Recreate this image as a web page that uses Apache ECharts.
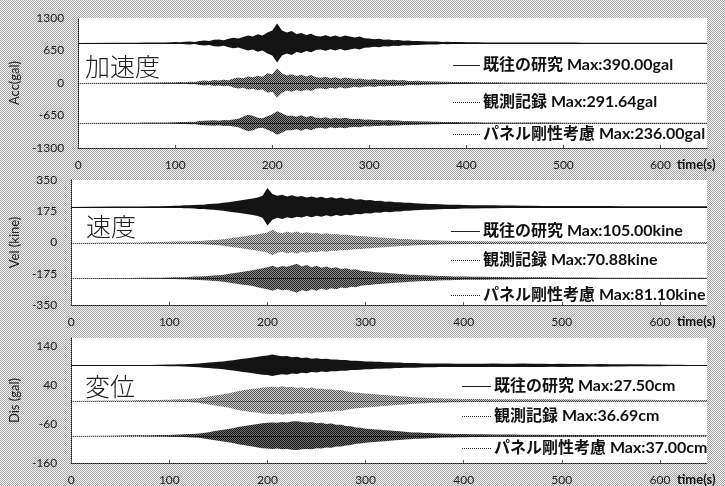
<!DOCTYPE html>
<html>
<head>
<meta charset="utf-8">
<script src="https://cdn.jsdelivr.net/npm/echarts@6/dist/echarts.min.js"></script>
<style>
  html, body { margin: 0; padding: 0; background: #fff; }
  #chart { width: 725px; height: 486px; }
</style>
</head>
<body>
<div id="chart"></div>
<script>
// Sample times (s) shared by every trace
const TIMES = [0, 40, 60, 70, 80, 90,
  100, 105, 110, 115, 120, 125, 130, 135, 140, 145, 150, 155, 160, 165, 170, 175, 180, 185, 190, 195,
  200, 205, 210, 215, 220, 225, 230, 235, 240, 245, 250, 255, 260, 265, 270, 275, 280, 285, 290, 295,
  300, 305, 310, 315, 320, 325, 330, 335, 340, 345, 350, 355, 360, 365, 370, 375, 380, 385, 390, 395, 400,
  410, 420, 430, 440, 450, 460, 470, 480, 490, 500, 510, 520, 530, 540, 550, 560, 570, 580, 590, 600, 610, 620, 630, 640,
  648];

const TRACE_NAMES = ['既往の研究', '観測記録', 'パネル剛性考慮'];
const PANEL_TITLES = ['加速度', '速度', '変位'];
const Y_NAMES = ['Acc(gal)', 'Vel (kine)', 'Dis (gal)'];
const UNITS = ['gal', 'kine', 'cm'];
const X_NAME = 'time(s)';

// Peak amplitudes of each trace
const ACC_MAX = [390.00, 291.64, 236.00];
const VEL_MAX = [105.00, 70.88, 81.10];
const DIS_MAX = [27.50, 36.69, 37.00];

// Vertical offsets used to stack the three traces in a panel
const ACC_OFFSETS = [800, 0, -800];
const VEL_OFFSETS = [200, 0, -200];
const DIS_OFFSETS = [90, 0, -90];

// Y axis ranges and tick steps
const ACC_AXIS = [-1300, 1300, 650];
const VEL_AXIS = [-350, 350, 175];
const DIS_AXIS = [-160, 160, 100];

// Envelope amplitudes (peak excursion around the trace baseline) at TIMES
const ACC_EXISTING = [0, 4, 6, 8, 10, 12,
  20, 14, 26, 30, 22, 40, 52, 40, 64, 72, 56, 84, 104, 90, 120, 150, 130, 176, 150, 210,
  250, 390, 250, 210, 240, 180, 200, 160, 184, 140, 130, 156, 124, 150, 120, 148, 130, 110, 128, 96,
  92, 76, 84, 64, 68, 56, 60, 46, 52, 40, 42, 34, 32, 28, 28, 22, 24, 20, 18, 18, 16,
  14, 12, 12, 10, 10, 10, 8, 8, 8, 8, 8, 6, 6, 6, 6, 6, 6, 6, 6, 6, 6, 6, 6, 6,
  6];
const ACC_OBSERVED = [0, 4, 6, 8, 10, 14,
  16, 22, 16, 26, 20, 42, 50, 40, 62, 52, 66, 56, 92, 112, 96, 132, 116, 144, 124, 194,
  176, 291.64, 196, 150, 176, 140, 166, 130, 160, 116, 104, 124, 96, 114, 86, 112, 96, 76, 92, 76,
  66, 82, 60, 72, 56, 66, 48, 58, 42, 38, 46, 34, 36, 28, 32, 24, 24, 22, 20, 20, 18,
  16, 14, 14, 12, 12, 10, 10, 8, 8, 8, 6, 6, 6, 6, 6, 6, 6, 6, 6, 6, 6, 6, 6, 6,
  6];
const ACC_PANEL = [0, 4, 6, 8, 10, 12,
  16, 20, 18, 24, 22, 38, 44, 52, 56, 46, 62, 54, 72, 84, 124, 164, 144, 104, 96, 136,
  176, 236, 196, 144, 146, 124, 154, 116, 144, 104, 96, 114, 86, 104, 92, 104, 86, 80, 84, 66,
  72, 62, 62, 52, 58, 48, 48, 42, 42, 34, 36, 28, 30, 24, 26, 22, 20, 20, 18, 16, 16,
  14, 12, 12, 10, 10, 8, 8, 8, 8, 6, 6, 6, 6, 6, 6, 6, 6, 6, 6, 6, 6, 6, 6, 6,
  6];

const VEL_EXISTING = [0, 1, 1.5, 2, 2.5, 3,
  5, 6, 6, 8, 8, 10, 12, 12, 15, 17, 19, 22, 26, 30, 34, 38, 42, 46, 52, 62,
  105, 72, 62, 68, 58, 64, 56, 60, 52, 58, 50, 56, 48, 54, 46, 52, 44, 48, 40, 42,
  36, 38, 32, 34, 28, 30, 26, 26, 22, 22, 20, 18, 17, 16, 15, 14, 13, 12, 12, 11, 10,
  9, 8, 8, 7, 7, 6, 6, 5, 5, 5, 4, 4, 4, 4, 4, 3, 3, 3, 3, 3, 3, 3, 3, 3,
  3];
const VEL_OBSERVED = [0, 1, 1.5, 2, 2.5, 3,
  4, 5, 5, 6, 6, 8, 9, 10, 12, 14, 16, 18, 22, 26, 30, 34, 38, 42, 46, 50,
  56, 70.88, 58, 52, 60, 54, 62, 52, 58, 50, 54, 48, 52, 46, 48, 42, 44, 40, 38, 36,
  34, 32, 30, 28, 26, 24, 22, 20, 19, 18, 16, 15, 14, 13, 12, 11, 10, 10, 9, 8, 8,
  7, 7, 6, 6, 5, 5, 5, 4, 4, 4, 3, 3, 3, 3, 3, 3, 3, 3, 3, 3, 3, 3, 3, 3,
  3];
const VEL_PANEL = [0, 1, 1.5, 2, 2.5, 3,
  4, 5, 6, 6, 7, 9, 10, 11, 13, 15, 17, 20, 24, 28, 32, 36, 40, 44, 50, 56,
  62, 70, 60, 68, 64, 72, 81.1, 66, 74, 62, 70, 58, 66, 56, 62, 52, 56, 48, 50, 42,
  40, 38, 34, 32, 30, 28, 26, 24, 22, 20, 19, 17, 16, 15, 14, 13, 12, 11, 10, 10, 9,
  8, 8, 7, 7, 6, 6, 5, 5, 5, 4, 4, 4, 4, 3, 3, 3, 3, 3, 3, 3, 3, 3, 3, 3,
  3];

const DIS_EXISTING = [0, 0.5, 0.8, 1, 1.2, 1.5,
  2, 2.2, 2.5, 3, 3.5, 4, 5, 6, 7, 8, 9, 10, 12, 13, 15, 17, 18, 20, 22, 24,
  25, 27.5, 25, 23, 24, 21, 22, 19, 20, 17, 18, 16, 17, 15, 15, 14, 14, 12, 12, 11,
  10, 10, 9, 9, 8, 8, 7, 7, 6, 6, 6, 5.5, 5, 5, 5, 4.5, 4.5, 4.5, 4, 4, 4,
  4, 4, 4.5, 4, 4, 4.5, 4, 4, 3.5, 4, 3.5, 3.5, 3, 3.5, 3, 3, 2.5, 2.5, 2, 2, 1.5, 1.5, 1, 1,
  1];
const DIS_OBSERVED = [0, 0.5, 0.8, 1, 1.2, 1.5,
  2, 2.5, 3, 3.5, 4, 5, 6, 8, 10, 12, 14, 16, 18, 21, 24, 26, 28, 30, 31, 33,
  34, 35, 33, 36.69, 34, 35, 32, 34, 31, 33, 30, 31, 28, 29, 26, 27, 24, 22, 20, 19,
  18, 17, 16, 15, 14, 13, 12, 11, 10, 9, 8, 7.5, 7, 6.5, 6, 5.5, 5, 5, 4.5, 4.5, 4,
  4, 4, 3.5, 3.5, 3.5, 3, 3, 3, 3, 2.5, 2.5, 2.5, 2.5, 2, 2, 2, 2, 2, 2, 1.5, 1.5, 1.5, 1.5, 1.5,
  1.5];
const DIS_PANEL = [0, 0.5, 0.8, 1, 1.2, 1.5,
  2, 2.5, 3, 3.5, 4, 4.5, 5.5, 7, 9, 11, 13, 15, 17, 19, 22, 24, 26, 28, 30, 32,
  33, 34, 33, 35, 34, 36, 37, 35, 34, 35, 32, 33, 30, 31, 28, 28, 25, 24, 21, 20,
  18, 17, 16, 15, 14, 13, 12, 11, 10, 9, 8, 8, 7, 6.5, 6, 5.5, 5, 5, 4.5, 4, 4,
  3.5, 3.5, 3, 3, 3, 2.5, 2.5, 2.5, 2, 2, 2, 2, 2, 1.5, 1.5, 1.5, 1.5, 1.5, 1.5, 1, 1, 1, 1, 1,
  1];

const PANELS = [
  { axis: ACC_AXIS, offsets: ACC_OFFSETS, maxes: ACC_MAX, traces: [ACC_EXISTING, ACC_OBSERVED, ACC_PANEL] },
  { axis: VEL_AXIS, offsets: VEL_OFFSETS, maxes: VEL_MAX, traces: [VEL_EXISTING, VEL_OBSERVED, VEL_PANEL] },
  { axis: DIS_AXIS, offsets: DIS_OFFSETS, maxes: DIS_MAX, traces: [DIS_EXISTING, DIS_OBSERVED, DIS_PANEL] }
];

// ---- layout and styling ----
const GRID_TOPS = [18, 180, 338];
const GRID_HEIGHTS = [130, 125, 125];
const LEGEND_POS = [
  { x: 453, w: 27, ys: [65, 102, 134] },
  { x: 451, w: 29, ys: [231, 260, 295] },
  { x: 462, w: 29, ys: [386, 416, 448] }
];
const TITLE_POS = [[85, 54], [86, 214], [85, 374]];
const LABEL_FONT = 'Lato, "Noto Sans", sans-serif';
const CJK_FONT = '"Noto Sans CJK JP", sans-serif';

// 2x2 halftone tiles
function checker(dark, light) {
  const c = document.createElement('canvas');
  c.width = 2; c.height = 2;
  const ctx = c.getContext('2d');
  ctx.fillStyle = light; ctx.fillRect(0, 0, 2, 2);
  ctx.fillStyle = dark; ctx.fillRect(0, 0, 1, 1); ctx.fillRect(1, 1, 1, 1);
  return { image: c, repeat: 'repeat' };
}
const BACKDROP = checker('#a4a4a4', '#f8f8f8');
const TRACE_FILLS = [
  ['#141414', checker('#222222', '#a8a8a8'), checker('#1a1a1a', '#8a8a8a')],
  ['#141414', checker('#555555', '#cfcfcf'), checker('#222222', '#8e8e8e')],
  ['#141414', checker('#555555', '#cfcfcf'), checker('#141414', '#6e6e6e')]
];

function envelopeSeries(panelIdx, amps, offset, fill, dotted) {
  return {
    type: 'custom',
    xAxisIndex: panelIdx,
    yAxisIndex: panelIdx,
    silent: true,
    data: TIMES.map((t, i) => [t, amps[i]]),
    renderItem(params, api) {
      if (params.dataIndexInside !== 0) return null;
      const n = params.dataInsideLength;
      const top = [], bottom = [];
      for (let i = 0; i < n; i++) {
        const t = api.value(0, i), a = api.value(1, i);
        top.push(api.coord([t, offset + a]));
        bottom.push(api.coord([t, offset - a]));
      }
      const p0 = api.coord([api.value(0, 0), offset]);
      const p1 = api.coord([api.value(0, n - 1), offset]);
      return {
        type: 'group',
        children: [
          { type: 'polygon', shape: { points: top.concat(bottom.reverse()) }, style: { fill: fill } },
          { type: 'line', shape: { x1: p0[0], y1: Math.round(p0[1]) + 0.5, x2: p1[0], y2: Math.round(p1[1]) + 0.5 },
            style: { stroke: '#111', lineWidth: 1, lineDash: dotted ? [1, 1] : null } }
        ]
      };
    }
  };
}

const grids = [], xAxes = [], yAxes = [], series = [], titles = [], graphics = [];

PANELS.forEach((p, k) => {
  grids.push({ left: 71, width: 636, top: GRID_TOPS[k], height: GRID_HEIGHTS[k],
    show: true, backgroundColor: '#ffffff', borderWidth: 0 });
  xAxes.push({
    type: 'value', gridIndex: k, min: TIMES[0], max: TIMES[TIMES.length - 1], interval: 100,
    name: X_NAME, nameLocation: 'end', nameGap: -30,
    nameTextStyle: { fontFamily: LABEL_FONT, fontWeight: 'bold', fontSize: 13, color: '#111',
      align: 'left', verticalAlign: 'top', padding: [10, 0, 0, 0] },
    axisLine: { onZero: false, lineStyle: { color: '#111', type: 'dotted', width: 1 } },
    axisTick: { show: true, inside: true, length: 3, lineStyle: { color: '#555' } },
    axisLabel: { fontFamily: LABEL_FONT, fontSize: 12, color: '#222', margin: 11, showMaxLabel: false },
    splitLine: { show: false }
  });
  yAxes.push({
    type: 'value', gridIndex: k, min: p.axis[0], max: p.axis[1], interval: p.axis[2],
    name: Y_NAMES[k], nameLocation: 'middle', nameGap: 45, nameRotate: 90,
    nameTextStyle: { fontFamily: LABEL_FONT, fontSize: 13, color: '#222' },
    axisLine: { show: true, lineStyle: { color: '#111', type: 'dotted', width: 1 } },
    axisTick: { show: false },
    axisLabel: { fontFamily: LABEL_FONT, fontSize: 12, color: '#222', margin: 14,
      showMaxLabel: k !== 2, formatter: v => String(v) },
    splitLine: { show: false }
  });
  p.traces.forEach((amps, j) => {
    series.push(envelopeSeries(k, amps, p.offsets[j], TRACE_FILLS[k][j], j > 0));
  });
  titles.push({ text: PANEL_TITLES[k], left: TITLE_POS[k][0], top: TITLE_POS[k][1], padding: 0,
    textStyle: { fontFamily: CJK_FONT, fontSize: 25, fontWeight: 300, color: '#222' } });
  const lp = LEGEND_POS[k];
  TRACE_NAMES.forEach((name, j) => {
    const y = lp.ys[j];
    graphics.push({
      type: 'line', silent: true,
      shape: { x1: lp.x, y1: y + 0.5, x2: lp.x + lp.w, y2: y + 0.5 },
      style: { stroke: '#222', lineWidth: 1, lineDash: j === 0 ? null : [1, 1] }
    });
    graphics.push({
      type: 'text', silent: true, x: lp.x + lp.w + 3, y: y,
      style: {
        text: name + ' Max:' + p.maxes[j].toFixed(2) + UNITS[k],
        font: 'bold 16px Lato, "Noto Sans CJK JP", sans-serif',
        fill: '#111', verticalAlign: 'middle', align: 'left'
      }
    });
  });
});

const chart = echarts.init(document.getElementById('chart'), null, { renderer: 'canvas' });
chart.setOption({
  backgroundColor: BACKDROP,
  animation: false,
  title: titles,
  grid: grids,
  xAxis: xAxes,
  yAxis: yAxes,
  series: series,
  graphic: graphics
});
</script>
</body>
</html>
